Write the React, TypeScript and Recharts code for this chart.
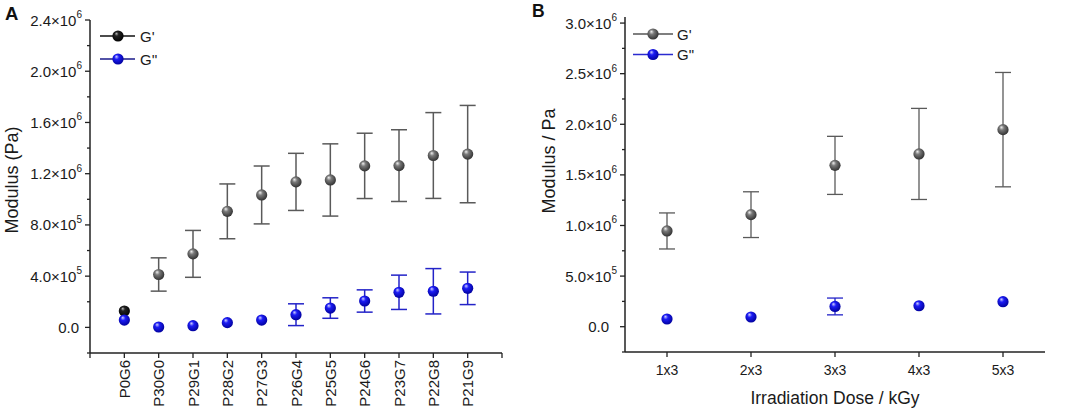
import React from 'react';
import { ScatterChart, Scatter, XAxis, YAxis, ErrorBar, Legend } from 'recharts';

const FONT = '"Liberation Sans", Arial, sans-serif';

// ---------- Panel A data ----------
const categoriesA = ['P0G6', 'P30G0', 'P29G1', 'P28G2', 'P27G3', 'P26G4', 'P25G5', 'P24G6', 'P23G7', 'P22G8', 'P21G9'];
const gPrimeA = [128000, 413000, 574000, 906000, 1034000, 1136000, 1151000, 1261000, 1263000, 1342000, 1353000];
const gPrimeErrA = [0, 130000, 183000, 214000, 226000, 223000, 282000, 255000, 280000, 335000, 380000];
const gDoubleA = [57000, 3000, 13000, 37000, 57000, 99000, 151000, 206000, 274000, 282000, 305000];
const gDoubleErrA = [0, 0, 0, 0, 0, 85000, 80000, 87000, 134000, 177000, 127000];
const yTicksA = [-200000, 0, 200000, 400000, 600000, 800000, 1000000, 1200000, 1400000, 1600000, 1800000, 2000000, 2200000, 2400000];
const yMajorA = [0, 400000, 800000, 1200000, 1600000, 2000000, 2400000];
const yMantA = ['0.0', '4.0', '8.0', '1.2', '1.6', '2.0', '2.4'];
const yExpA = ['', '5', '5', '6', '6', '6', '6'];
const xTicksA = [0, 1, 2, 3, 4, 5, 6, 7, 8, 9, 10, 11, 12];

// ---------- Panel B data ----------
const categoriesB = ['1x3', '2x3', '3x3', '4x3', '5x3'];
const gPrimeB = [946000, 1107000, 1594000, 1707000, 1947000];
const gPrimeErrB = [178000, 226000, 287000, 450000, 565000];
const gDoubleB = [76000, 96000, 200000, 207000, 247000];
const gDoubleErrB = [0, 0, 83000, 0, 0];
const yTicksB = [-250000, 0, 250000, 500000, 750000, 1000000, 1250000, 1500000, 1750000, 2000000, 2250000, 2500000, 2750000, 3000000];
const yMajorB = [0, 500000, 1000000, 1500000, 2000000, 2500000, 3000000];
const yMantB = ['0.0', '5.0', '1.0', '1.5', '2.0', '2.5', '3.0'];
const yExpB = ['', '5', '6', '6', '6', '6', '6'];
const xTicksB = [1, 2, 3, 4, 5];

const build = (vals: number[], errs: number[]) => vals.map((v, i) => ({ x: i + 1, y: v, e: errs[i] }));

const dataGPA = build(gPrimeA, gPrimeErrA);
const dataGDA = build(gDoubleA, gDoubleErrA);
const dataGPB = build(gPrimeB, gPrimeErrB);
const dataGDB = build(gDoubleB, gDoubleErrB);

const makeYTick = (major: number[], mant: string[], exp: string[], zeroShift: number) => (props: any) => {
  const { x, y, payload } = props;
  const i = major.indexOf(payload.value);
  const ax = x + 8;
  const tx = exp[i] ? x : x - zeroShift;
  return (
    <g>
      <line x1={ax} x2={ax - (i >= 0 ? 5 : 3)} y1={y} y2={y} stroke="#222" strokeWidth={1.3} />
      {i >= 0 && (
        <text x={tx} y={y} textAnchor="end" dominantBaseline="central" fontSize={15} fill="#1a1a1a" fontFamily={FONT}>
          {mant[i]}
          {exp[i] ? (
            <>
              ×10<tspan dy={-6} fontSize={10}>{exp[i]}</tspan>
            </>
          ) : null}
        </text>
      )}
    </g>
  );
};

const XTickA = (props: any) => {
  const { x, y, payload } = props;
  const label = categoriesA[payload.value - 1];
  if (!label) return null;
  return (
    <text x={0} y={0} transform={`translate(${x},${y}) rotate(-90)`} textAnchor="end" dominantBaseline="central" fontSize={15} fill="#1a1a1a" fontFamily={FONT}>
      {label}
    </text>
  );
};

const XTickB = (props: any) => {
  const { x, y, payload } = props;
  const label = categoriesB[payload.value - 1];
  if (!label) return null;
  return (
    <text x={x} y={y} dy="0.71em" textAnchor="middle" fontSize={14} fill="#1a1a1a" fontFamily={FONT}>
      {label}
    </text>
  );
};

const sphere = (grad: string, firstGrad?: string) => (props: any) => {
  const { cx, cy, payload } = props;
  if (cx == null || cy == null) return <g />;
  const g = firstGrad && payload && payload.x === 1 ? firstGrad : grad;
  return <circle cx={cx} cy={cy} r={5.6} fill={`url(#${g})`} />;
};

const LegendRow = ({ y, lineColor, grad, label, x0, x1, mx, tx }: any) => (
  <g>
    <line x1={x0} x2={x1} y1={y} y2={y} stroke={lineColor} strokeWidth={1.4} />
    <circle cx={mx} cy={y} r={5.6} fill={`url(#${grad})`} />
    <text x={tx} y={y} dominantBaseline="central" fontSize={15} fill="#1a1a1a" fontFamily={FONT}>
      {label}
    </text>
  </g>
);

const LegendA = () => (
  <svg width={80} height={50} style={{ overflow: 'visible' }}>
    <LegendRow y={12} lineColor="#111" grad="sphBlack" label="G'" x0={2} x1={37} mx={20} tx={42} />
    <LegendRow y={35} lineColor="#1a1a8a" grad="sphBlue" label="G''" x0={2} x1={37} mx={20} tx={42} />
  </svg>
);

const LegendB = () => (
  <svg width={80} height={50} style={{ overflow: 'visible' }}>
    <LegendRow y={10} lineColor="#555" grad="sphGrey" label="G'" x0={3} x1={43} mx={23} tx={47} />
    <LegendRow y={30.5} lineColor="#2b2bd0" grad="sphBlue" label={'G"'} x0={3} x1={43} mx={23} tx={47} />
  </svg>
);

const axisStyle = { stroke: '#222', strokeWidth: 1.5 };

const ChartA = () => (
  <ScatterChart width={530} height={419} margin={{ top: 20, right: 28, bottom: 6, left: 0 }}>
    <XAxis
      dataKey="x"
      type="number"
      domain={[0, 12]}
      ticks={xTicksA}
      interval={0}
      tick={<XTickA />}
      tickSize={5}
      tickMargin={2}
      height={60}
      axisLine={axisStyle}
      tickLine={{ stroke: '#222', strokeWidth: 1.3 }}
    />
    <YAxis
      dataKey="y"
      type="number"
      domain={[-200000, 2400000]}
      ticks={yTicksA}
      interval={0}
      allowDataOverflow
      width={90}
      tickSize={5}
      tickMargin={3}
      tickLine={false}
      tick={makeYTick(yMajorA, yMantA, yExpA, 3)}
      axisLine={axisStyle}
      label={{
        content: () => {
          const cx = 11.5;
          const cy = 180;
          return (
            <text x={cx} y={cy} transform={`rotate(-90 ${cx} ${cy})`} textAnchor="middle" dominantBaseline="central" fontSize={18} fill="#1a1a1a" fontFamily={FONT}>
              Modulus (Pa)
            </text>
          );
        },
      }}
    />
    <XAxis xAxisId="top" orientation="top" type="number" domain={[0, 1]} height={0} tick={false} tickLine={false} axisLine={axisStyle} />
    <YAxis yAxisId="right" orientation="right" type="number" domain={[0, 1]} width={0} tick={false} tickLine={false} axisLine={axisStyle} />
    <Legend
      layout="vertical"
      align="center"
      verticalAlign="middle"
      content={() => <LegendA />}
      wrapperStyle={{ left: 98, top: 24, width: 80, height: 50 }}
    />
    <Scatter data={dataGPA} isAnimationActive={false} shape={sphere('sphGrey', 'sphBlack')}>
      <ErrorBar dataKey="e" direction="y" width={8} stroke="#5a5a5a" strokeWidth={1.5} />
    </Scatter>
    <Scatter data={dataGDA} isAnimationActive={false} shape={sphere('sphBlue')}>
      <ErrorBar dataKey="e" direction="y" width={8} stroke="#2323c8" strokeWidth={1.5} />
    </Scatter>
  </ScatterChart>
);

const ChartB = () => (
  <ScatterChart width={535} height={419} margin={{ top: 17, right: 20, bottom: 6, left: 0 }}>
    <XAxis
      dataKey="x"
      type="number"
      domain={[0.5, 5.5]}
      ticks={xTicksB}
      interval={0}
      tick={<XTickB />}
      tickSize={5}
      tickMargin={8}
      height={61}
      axisLine={axisStyle}
      tickLine={{ stroke: '#222', strokeWidth: 1.3 }}
      label={{
        content: (p: any) => {
          const vb = p.viewBox || { x: 95, y: 352, width: 420 };
          return (
            <text x={vb.x + vb.width / 2} y={vb.y + 52} textAnchor="middle" fontSize={17.5} fill="#1a1a1a" fontFamily={FONT}>
              Irradiation Dose / kGy
            </text>
          );
        },
      }}
    />
    <YAxis
      dataKey="y"
      type="number"
      domain={[-250000, 3060000]}
      ticks={yTicksB}
      interval={0}
      allowDataOverflow
      width={95}
      tickSize={5}
      tickMargin={3}
      tickLine={false}
      tick={makeYTick(yMajorB, yMantB, yExpB, 8)}
      axisLine={axisStyle}
      label={{
        content: () => {
          const cx = 18.5;
          const cy = 161;
          return (
            <text x={cx} y={cy} transform={`rotate(-90 ${cx} ${cy})`} textAnchor="middle" dominantBaseline="central" fontSize={18} fill="#1a1a1a" fontFamily={FONT}>
              Modulus / Pa
            </text>
          );
        },
      }}
    />
    <XAxis xAxisId="top" orientation="top" type="number" domain={[0, 1]} height={0} tick={false} tickLine={false} axisLine={axisStyle} />
    <YAxis yAxisId="right" orientation="right" type="number" domain={[0, 1]} width={0} tick={false} tickLine={false} axisLine={axisStyle} />
    <Legend
      layout="vertical"
      align="center"
      verticalAlign="middle"
      content={() => <LegendB />}
      wrapperStyle={{ left: 100, top: 24, width: 80, height: 50 }}
    />
    <Scatter data={dataGPB} isAnimationActive={false} shape={sphere('sphGrey')}>
      <ErrorBar dataKey="e" direction="y" width={8} stroke="#5a5a5a" strokeWidth={1.3} />
    </Scatter>
    <Scatter data={dataGDB} isAnimationActive={false} shape={sphere('sphBlue')}>
      <ErrorBar dataKey="e" direction="y" width={8} stroke="#2323c8" strokeWidth={1.3} />
    </Scatter>
  </ScatterChart>
);

export default function App() {
  return (
    <div style={{ position: 'absolute', left: 0, top: 0, width: 1065, height: 419, background: '#fff', fontFamily: FONT }}>
      <svg width={0} height={0} style={{ position: 'absolute' }}>
        <defs>
          <radialGradient id="sphGrey" cx="45%" cy="42%" r="60%" fx="35%" fy="28%">
            <stop offset="0%" stopColor="#f0f0f0" />
            <stop offset="35%" stopColor="#7a7a7a" />
            <stop offset="100%" stopColor="#2e2e2e" />
          </radialGradient>
          <radialGradient id="sphBlack" cx="45%" cy="42%" r="60%" fx="35%" fy="28%">
            <stop offset="0%" stopColor="#bbbbbb" />
            <stop offset="30%" stopColor="#222222" />
            <stop offset="100%" stopColor="#000000" />
          </radialGradient>
          <radialGradient id="sphBlue" cx="45%" cy="42%" r="60%" fx="35%" fy="28%">
            <stop offset="0%" stopColor="#d0d0ff" />
            <stop offset="35%" stopColor="#1c1cf5" />
            <stop offset="100%" stopColor="#00009a" />
          </radialGradient>
        </defs>
      </svg>
      <div style={{ position: 'absolute', left: 0, top: 0 }}>
        <ChartA />
      </div>
      <div style={{ position: 'absolute', left: 530, top: 0 }}>
        <ChartB />
      </div>
      <svg width={1065} height={30} style={{ position: 'absolute', left: 0, top: 0, pointerEvents: 'none' }}>
        <text x={5} y={20} fontSize={18.5} fontWeight="bold" fill="#111" fontFamily={FONT}>
          A
        </text>
        <text x={532} y={17} fontSize={17.5} fontWeight="bold" fill="#111" fontFamily={FONT}>
          B
        </text>
      </svg>
    </div>
  );
}
